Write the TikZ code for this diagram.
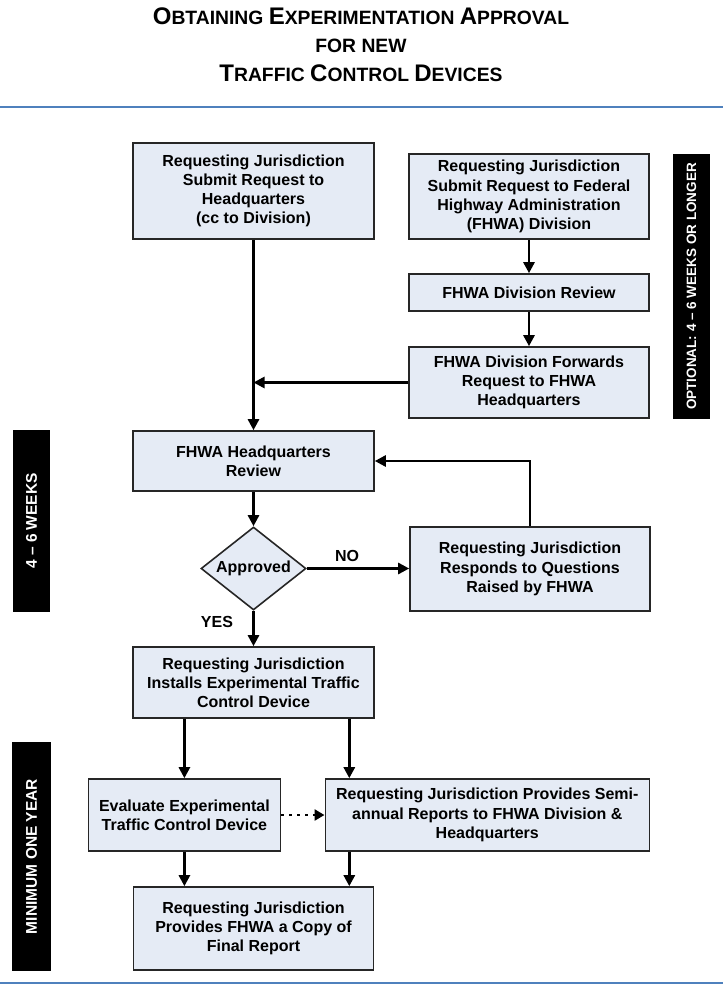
\documentclass[tikz,border=0pt]{standalone}
\usepackage{fontspec}
\setmainfont{Liberation Sans}
\usetikzlibrary{shapes.geometric,arrows.meta}
\definecolor{boxfill}{RGB}{229,235,245}
\definecolor{rulecol}{RGB}{79,129,189}
\newcommand{\tcap}[1]{{\fontsize{24}{24}\selectfont #1}}
\begin{document}
\begin{tikzpicture}[x=1pt,y=-1pt,
  every node/.style={font=\fontsize{16}{19.2}\selectfont\bfseries},
  box/.style={draw=black!85, line width=1.6pt, fill=boxfill, inner sep=0pt, align=center},
  arr/.style={line width=2.6pt, -{Triangle[length=11pt,width=11pt]}},
  dotarr/.style={line width=2.5pt, dash pattern=on 2.5pt off 5.5pt, -{Triangle[length=10pt,width=11pt]}},
  bar/.style={fill=black, text=white, rotate=90, inner sep=0pt, font=\fontsize{15.5}{18}\selectfont\bfseries},
  ttl/.style={anchor=base, inner sep=0pt, font=\fontsize{19.3}{22}\selectfont\bfseries},
  lbl/.style={inner sep=0pt}]
\useasboundingbox (0,0) rectangle (723,984);
% title
\node[ttl] (t1) at (361,25) {\tcap{O}BTAINING \tcap{E}XPERIMENTATION \tcap{A}PPROVAL};
\node[ttl] (t2) at (361,53) {FOR NEW};
\node[ttl] (t3) at (361,82) {\tcap{T}RAFFIC \tcap{C}ONTROL \tcap{D}EVICES};
\coordinate (r1a) at (0,107); \coordinate (r1b) at (723,107);
\coordinate (r2a) at (0,982.5); \coordinate (r2b) at (723,982.5);
\draw[rulecol, line width=2pt] (r1a) -- (r1b);
\draw[rulecol, line width=2pt] (r2a) -- (r2b);
% boxes
\node[box, minimum width=241pt, minimum height=96pt] (A) at (253.5,191) {Requesting Jurisdiction\\Submit Request to\\Headquarters\\(cc to Division)};
\node[box, minimum width=240pt, minimum height=85pt] (B) at (529,196.5) {Requesting Jurisdiction\\Submit Request to Federal\\Highway Administration\\(FHWA) Division};
\node[box, minimum width=240pt, minimum height=37pt] (C) at (529,292.5) {FHWA Division Review};
\node[box, minimum width=240pt, minimum height=71pt] (D) at (529,382.5) {FHWA Division Forwards\\Request to FHWA\\Headquarters};
\node[box, minimum width=241pt, minimum height=60pt] (HQ) at (253.5,461) {FHWA Headquarters\\Review};
\node[box, diamond, shape aspect=1.265, minimum width=105pt, minimum height=83pt] (dia) at (253.5,568.5) {Approved};
\node[box, minimum width=240pt, minimum height=84pt] (R) at (530,569) {Requesting Jurisdiction\\Responds to Questions\\Raised by FHWA};
\node[box, minimum width=241pt, minimum height=71pt] (I) at (253.5,682.5) {Requesting Jurisdiction\\Installs Experimental Traffic\\Control Device};
\node[box, minimum width=192pt, minimum height=72pt] (E) at (184.4,815) {Evaluate Experimental\\Traffic Control Device};
\node[box, minimum width=324pt, minimum height=72pt] (S) at (487.3,815) {Requesting Jurisdiction Provides Semi-\\annual Reports to FHWA Division \&\\Headquarters};
\node[box, minimum width=240pt, minimum height=83pt] (F) at (253.5,928.5) {Requesting Jurisdiction\\Provides FHWA a Copy of\\Final Report};
% bars
\node[bar, minimum width=265pt, minimum height=37pt, font=\fontsize{13.5}{16}\selectfont\bfseries] (b1) at (691.5,286.5) {OPTIONAL: 4 -- 6 WEEKS OR LONGER};
\node[bar, minimum width=182pt, minimum height=37pt] (b2) at (31.5,521) {4 -- 6 WEEKS};
\node[bar, minimum width=229pt, minimum height=39pt] (b3) at (31.5,856.5) {MINIMUM ONE YEAR};
% labels
\node[lbl] (no) at (347,556) {NO};
\node[lbl] (yes) at (217,622) {YES};
% connectors
\coordinate (j) at (A.south |- D.west);
\coordinate (sx) at (349.3,0);
\draw[arr] (A.south) -- (HQ.north);
\draw[arr] (B.south) -- (C.north);
\draw[arr] (C.south) -- (D.north);
\draw[arr] (D.west) -- (j);
\draw[arr] (HQ.south) -- (dia.north);
\draw[arr] (dia.east) -- (R.west |- dia.east);
\draw[arr] (R.north) |- (HQ.east);
\draw[arr] (dia.south) -- (I.north);
\draw[arr] (I.south -| E.north) -- (E.north);
\draw[arr] (I.south -| sx) -- (S.north -| sx);
\draw[dotarr] (E.east) -- (S.west);
\draw[arr] (E.south) -- (F.north -| E.south);
\draw[arr] (S.south -| sx) -- (F.north -| sx);
\end{tikzpicture}
\end{document}
